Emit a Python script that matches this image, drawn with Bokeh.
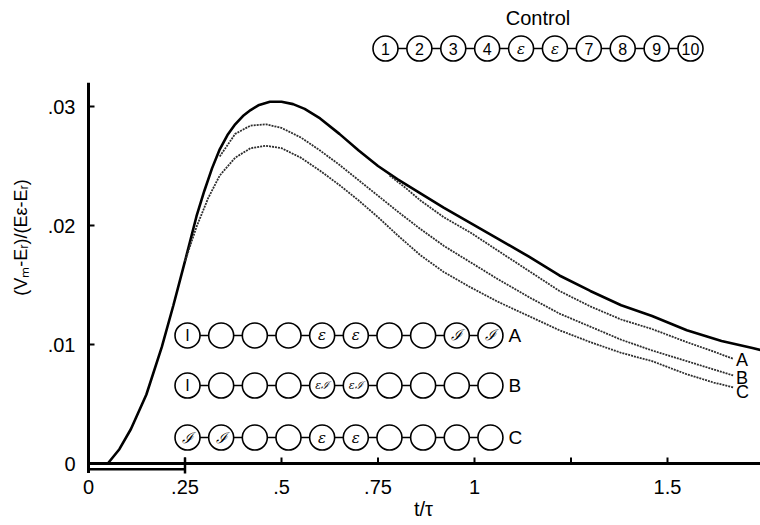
from bokeh.plotting import figure
from bokeh.models import LinearAxis, FixedTicker, Range1d, ColumnDataSource
from bokeh.core.properties import value
from bokeh.embed import file_html
from bokeh.resources import INLINE

# ---------------- data ----------------
control_t = [0.05, 0.08, 0.11, 0.15, 0.19, 0.22, 0.25, 0.28, 0.30, 0.32, 0.34, 0.36, 0.38,
             0.40, 0.42, 0.44, 0.47, 0.50, 0.53, 0.56, 0.60, 0.65, 0.70, 0.75, 0.80, 0.86,
             0.92, 0.99, 1.06, 1.14, 1.22, 1.30, 1.38, 1.46, 1.55, 1.64, 1.72, 1.76]
control_y = [0.0, 0.0012, 0.0029, 0.0058, 0.0098, 0.0133, 0.0170, 0.0208, 0.0229, 0.0248,
             0.0264, 0.0276, 0.0285, 0.0292, 0.0297, 0.0301, 0.0304, 0.0304, 0.0302, 0.0298,
             0.0290, 0.0277, 0.0263, 0.0250, 0.0239, 0.0227, 0.0215, 0.0202, 0.0189, 0.0174,
             0.0158, 0.0145, 0.0133, 0.0124, 0.0112, 0.0103, 0.0097, 0.0094]

a_t = [0.78, 0.82, 0.86, 0.92, 0.99, 1.06, 1.14, 1.22, 1.30, 1.38, 1.46, 1.55, 1.62, 1.67]
a_y = [0.0242, 0.0232, 0.0221, 0.0207, 0.0194, 0.0179, 0.0162, 0.0145, 0.0132, 0.0121,
       0.0113, 0.0102, 0.0094, 0.0088]

b_t = [0.34, 0.38, 0.42, 0.46, 0.50, 0.55, 0.60, 0.65, 0.70, 0.75, 0.80, 0.86, 0.92, 0.99,
       1.06, 1.14, 1.22, 1.30, 1.38, 1.46, 1.55, 1.62, 1.67]
b_y = [0.0258, 0.0277, 0.0284, 0.0285, 0.0282, 0.0274, 0.0263, 0.0251, 0.0238, 0.0225,
       0.0212, 0.0197, 0.0183, 0.0169, 0.0155, 0.0140, 0.0126, 0.0115, 0.0104, 0.0095,
       0.0086, 0.0079, 0.0074]

c_t = [0.25, 0.28, 0.31, 0.34, 0.38, 0.42, 0.46, 0.50, 0.55, 0.60, 0.65, 0.70, 0.75, 0.80,
       0.86, 0.92, 0.99, 1.06, 1.14, 1.22, 1.30, 1.38, 1.46, 1.55, 1.62, 1.67]
c_y = [0.0170, 0.0199, 0.0223, 0.0242, 0.0257, 0.0265, 0.0267, 0.0265, 0.0257, 0.0246,
       0.0234, 0.0221, 0.0207, 0.0192, 0.0175, 0.0161, 0.0148, 0.0136, 0.0124, 0.0112,
       0.0102, 0.0093, 0.0086, 0.0075, 0.0068, 0.0064]

curve_names = ["A", "B", "C"]

x_ticks = [0, 0.25, 0.5, 0.75, 1.0, 1.25, 1.5]
x_tick_labels = ["0", ".25", ".5", ".75", "1", "", "1.5"]
y_ticks = [0, 0.01, 0.02, 0.03]
y_tick_labels = ["0", ".01", ".02", ".03"]

stim_start = 0.0
stim_end = 0.25

control_cells = ["1", "2", "3", "4", "ε", "ε", "7", "8", "9", "10"]
row_a_cells = ["I", "", "", "", "ε", "ε", "", "", "ℐ", "ℐ"]
row_b_cells = ["I", "", "", "", "εℐ", "εℐ", "", "", "", ""]
row_c_cells = ["ℐ", "ℐ", "", "", "ε", "ε", "", "", "", ""]
row_cells = [row_a_cells, row_b_cells, row_c_cells]

# ---------------- layout constants ----------------
FONT = "Liberation Sans"
SYM_FONT = "DejaVu Serif"
PX_X = 386.0      # pixels per unit t
PX_Y = 11900.0    # pixels per unit y
X_START, X_END = -2 / PX_X, 672 / PX_X
Y_START, Y_END = -11 / PX_Y, 463 / PX_Y
TICK_X = 6 / PX_X
TICK_Y = 6 / PX_Y

ctrl_x0, ctrl_dx, ctrl_row_y, ctrl_title_y = 0.7694, 0.0878, 0.03487, 0.03740
rows_x0, rows_dx = 0.2565, 0.0872
rows_y = [0.01076, 0.00655, 0.00218]

p = figure(width=760, height=525, output_backend="svg", toolbar_location=None,
           x_range=Range1d(X_START, X_END), y_range=Range1d(Y_START, Y_END),
           x_axis_type=None, y_axis_type=None,
           min_border_left=86, min_border_right=0, min_border_top=0, min_border_bottom=51,
           outline_line_color=None, background_fill_color="white",
           border_fill_color="white")

def style_axis(ax):
    ax.axis_line_color = None
    ax.major_tick_line_color = None
    ax.major_tick_in = 0
    ax.major_tick_out = 0
    ax.minor_tick_line_color = None
    ax.major_label_text_font = FONT
    ax.major_label_text_font_size = "20px"
    ax.major_label_text_color = "black"
    ax.axis_label_text_font = FONT
    ax.axis_label_text_font_style = "normal"
    ax.axis_label_text_color = "black"

xaxis = LinearAxis(ticker=FixedTicker(ticks=x_ticks),
                   major_label_overrides={t: l for t, l in zip(x_ticks, x_tick_labels)},
                   axis_label="t/τ")
style_axis(xaxis)
xaxis.axis_label_text_font_size = "20px"
xaxis.major_label_standoff = 5
xaxis.axis_label_standoff = 1
p.add_layout(xaxis, "below")

yaxis = LinearAxis(ticker=FixedTicker(ticks=y_ticks),
                   major_label_overrides={t: l for t, l in zip(y_ticks, y_tick_labels)},
                   axis_label="(Vₘ-Eᵣ)/(Eε-Eᵣ)")
style_axis(yaxis)
yaxis.axis_label_text_font_size = "18px"
yaxis.major_label_standoff = 11
yaxis.axis_label_standoff = 14
p.add_layout(yaxis, "left")

# axis lines, tick marks, stimulus bar
p.segment(x0=[0, 0], y0=[0, -0.0008], x1=[X_END, 0], y1=[0, 0.032],
          line_width=3, line_color="black")
p.segment(x0=x_ticks[1:], y0=[0] * (len(x_ticks) - 1), x1=x_ticks[1:],
          y1=[TICK_Y] * (len(x_ticks) - 1), line_width=2, line_color="black")
p.segment(x0=[0] * 3, y0=y_ticks[1:], x1=[TICK_X] * 3, y1=y_ticks[1:],
          line_width=2, line_color="black")
p.segment(x0=[stim_start, stim_end], y0=[-0.00048, 0.0005], x1=[stim_end, stim_end],
          y1=[-0.00048, -0.00085], line_width=2.5, line_color="black")

# curves
p.line(control_t, control_y, line_width=2.6, line_color="black")
for tt, yy in [(a_t, a_y), (b_t, b_y), (c_t, c_y)]:
    p.line(tt, yy, line_width=1.8, line_color="#2e2e2e", line_dash="2 1")

p.text(x=[a_t[-1], b_t[-1], c_t[-1]], y=[a_y[-1], b_y[-1], c_y[-1]], text=curve_names,
       x_offset=3, y_offset=[1, 3, 5], text_align="left", text_baseline="middle",
       text_font=value(FONT), text_font_size="18px", text_color="black")

# compartment diagrams
def cell_font(s):
    if s.isdigit() or s == "I":
        return FONT, "normal", "16px"
    if len(s) > 1:
        return SYM_FONT, "italic", "11px"
    return SYM_FONT, "italic", "15px"

def draw_row(x0, dx, y, cells, r_label=None):
    xs = [x0 + i * dx for i in range(len(cells))]
    ys = [y] * len(cells)
    p.line([xs[0], xs[-1]], [y, y], line_width=1.5, line_color="black")
    p.scatter(xs, ys, marker="circle", size=25, fill_color="white",
              line_color="black", line_width=1.6)
    src = dict(x=[], y=[], text=[], font=[], style=[], size=[])
    for xx, s in zip(xs, cells):
        if not s:
            continue
        f, st, sz = cell_font(s)
        src["x"].append(xx); src["y"].append(y); src["text"].append(s)
        src["font"].append(f); src["style"].append(st); src["size"].append(sz)
    p.text(x="x", y="y", text="text", source=ColumnDataSource(src),
           text_font="font", text_font_style="style", text_font_size="size",
           text_align="center", text_baseline="middle", text_color="black")
    if r_label:
        p.text(x=[xs[-1]], y=[y], text=[r_label], x_offset=18, text_align="left",
               text_baseline="middle", text_font=value(FONT), text_font_size="19px",
               text_color="black")
    return xs

cx = draw_row(ctrl_x0, ctrl_dx, ctrl_row_y, control_cells)
p.text(x=[(cx[0] + cx[-1]) / 2], y=[ctrl_title_y], text=["Control"], text_align="center",
       text_baseline="middle", text_font=value(FONT), text_font_size="20px", text_color="black")

for cells, ry, nm in zip(row_cells, rows_y, curve_names):
    draw_row(rows_x0, rows_dx, ry, cells, nm)

open("out.html", "w").write(file_html(p, INLINE))
